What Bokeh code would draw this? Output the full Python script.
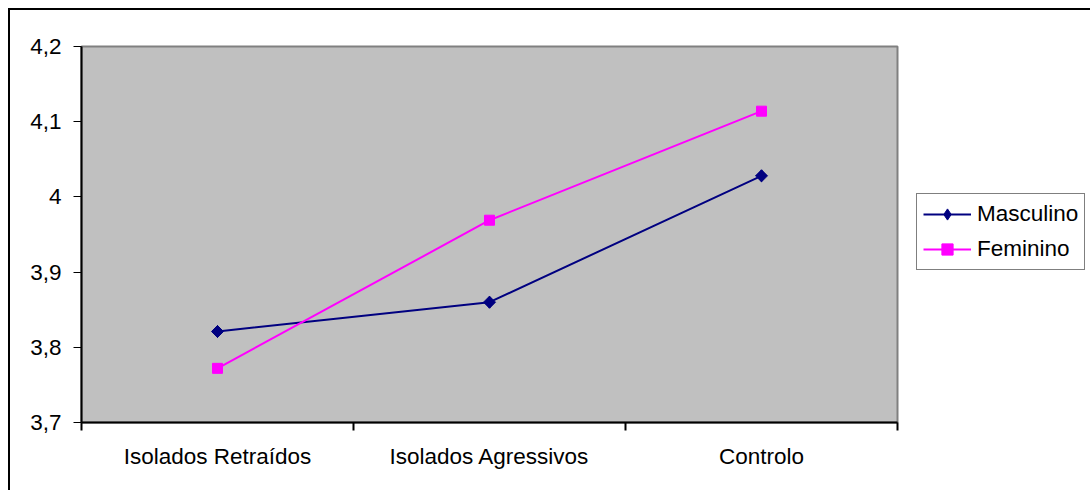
import math
from bokeh.plotting import figure
from bokeh.models import FixedTicker, Legend, LegendItem
from bokeh.embed import file_html
from bokeh.resources import INLINE

categories = ["Isolados Retraídos", "Isolados Agressivos", "Controlo"]
masculino = [3.821, 3.860, 4.028]
feminino = [3.772, 3.969, 4.114]
y_ticks = [3.7, 3.8, 3.9, 4.0, 4.1, 4.2]
y_tick_labels = ["3,7", "3,8", "3,9", "4", "4,1", "4,2"]

FONT = "Liberation Sans"
FS = "22.5px"

x = [i + 0.5 for i in range(len(categories))]

p = figure(frame_width=816, frame_height=376, output_backend="svg", toolbar_location=None,
           x_range=(0, len(categories)), y_range=(3.7, 4.2),
           min_border_left=71, min_border_right=193, min_border_top=36, min_border_bottom=68)
p.styles = {"margin-left": "8px", "margin-top": "8px",
            "border-left": "2px solid black", "border-top": "2px solid black"}
p.background_fill_color = "#C0C0C0"
p.border_fill_color = "white"
p.outline_line_color = "#808080"
p.outline_line_width = 2
p.grid.visible = False

l1 = p.line(x, masculino, line_color="#000080", line_width=2)
d1 = p.scatter(x, masculino, marker="diamond", size=12, fill_color="#000080", line_color="#000080")
s1 = p.scatter(x, masculino, marker="square", size=8.5, angle=math.pi / 4,
               fill_color="#000080", line_color="#000080")
l2 = p.line(x, feminino, line_color="#FF00FF", line_width=2)
s2 = p.scatter(x, feminino, marker="square", size=10, fill_color="#FF00FF", line_color="#FF00FF")

# x axis
xa = p.xaxis[0]
xa.ticker = FixedTicker(ticks=x, minor_ticks=list(range(len(categories) + 1)))
xa.major_label_overrides = {xx: c for xx, c in zip(x, categories)}
xa.major_tick_line_color = None
xa.major_tick_out = 0
xa.major_tick_in = 0
xa.minor_tick_out = 8
xa.minor_tick_in = 0
xa.minor_tick_line_color = "black"
xa.minor_tick_line_width = 2
xa.axis_line_color = "black"
xa.axis_line_width = 2
xa.major_label_standoff = 13
xa.major_label_text_font = FONT
xa.major_label_text_font_size = FS
xa.major_label_text_color = "black"

# y axis
ya = p.yaxis[0]
ya.ticker = FixedTicker(ticks=y_ticks, minor_ticks=[])
ya.major_label_overrides = {t: s for t, s in zip(y_ticks, y_tick_labels)}
ya.major_tick_out = 8
ya.major_tick_in = 0
ya.major_tick_line_color = "black"
ya.major_tick_line_width = 1
ya.axis_line_color = "black"
ya.axis_line_width = 2
ya.major_label_standoff = 12
ya.major_label_text_font = FONT
ya.major_label_text_font_size = FS
ya.major_label_text_color = "black"

legend = Legend(items=[LegendItem(label="Masculino", renderers=[l1, d1]),
                       LegendItem(label="Feminino", renderers=[l2, s2])],
                location=(19, 152))
legend.border_line_color = "black"
legend.border_line_width = 1
legend.background_fill_color = "white"
legend.background_fill_alpha = 1
legend.label_text_font = FONT
legend.label_text_font_size = FS
legend.label_text_color = "black"
legend.glyph_width = 48
legend.glyph_height = 28
legend.label_height = 28
legend.label_width = 20
legend.label_standoff = 6
legend.spacing = 7
legend.padding = 6
legend.margin = 0
p.add_layout(legend, "right")

open("out.html", "w").write(file_html(p, INLINE))
